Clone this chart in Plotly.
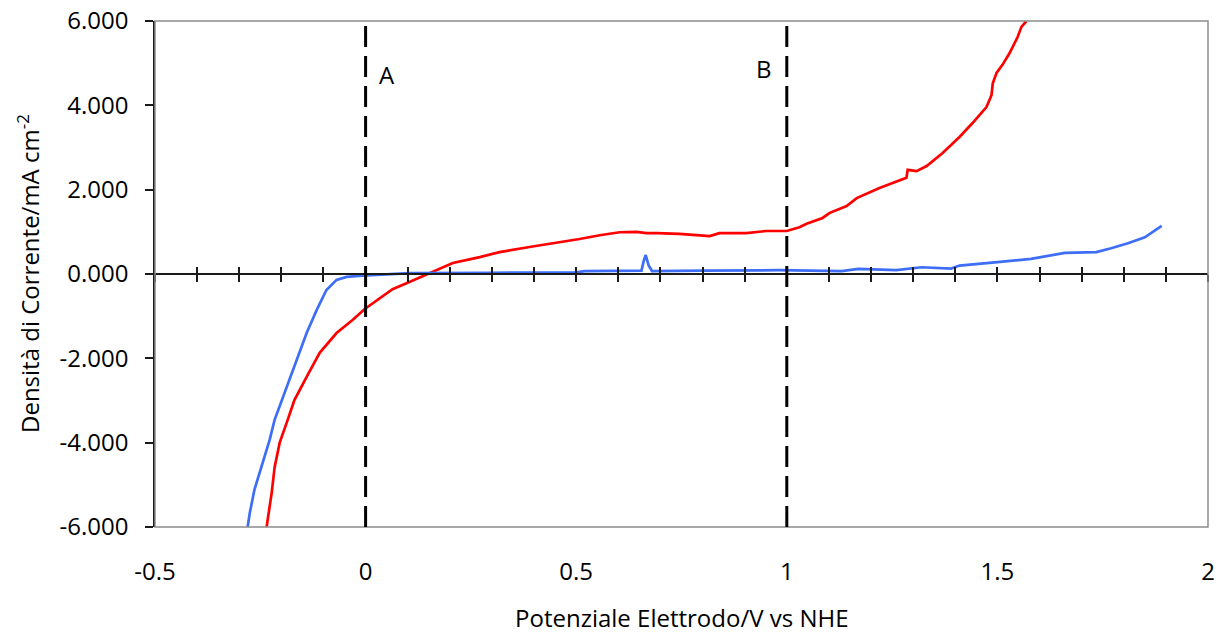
import plotly.graph_objects as go

# Red curve (potential V vs NHE, current density mA cm^-2)
red_x = [-0.235, -0.223, -0.216, -0.204, -0.185, -0.169, -0.140, -0.109, -0.069, -0.031,
         -0.002, 0.033, 0.064, 0.104, 0.152, 0.207, 0.271, 0.318, 0.389, 0.453, 0.508,
         0.556, 0.603, 0.643, 0.667, 0.691, 0.745, 0.817, 0.840, 0.904, 0.952, 1.000,
         1.030, 1.047, 1.085, 1.102, 1.142, 1.166, 1.220, 1.284, 1.287, 1.308, 1.332,
         1.370, 1.410, 1.441, 1.474, 1.486, 1.489, 1.498, 1.512, 1.529, 1.548, 1.557, 1.569]
red_y = [-6.0, -5.19, -4.58, -4.0, -3.46, -2.99, -2.44, -1.87, -1.40, -1.09,
         -0.83, -0.57, -0.36, -0.19, 0.02, 0.26, 0.40, 0.52, 0.64, 0.74, 0.83,
         0.92, 0.99, 1.00, 0.97, 0.97, 0.95, 0.90, 0.97, 0.97, 1.02, 1.02,
         1.11, 1.19, 1.33, 1.45, 1.61, 1.80, 2.04, 2.28, 2.47, 2.44, 2.56,
         2.87, 3.25, 3.58, 3.96, 4.24, 4.52, 4.77, 4.96, 5.24, 5.62, 5.86, 6.0]

# Blue curve
blue_x = [-0.280, -0.275, -0.264, -0.247, -0.228, -0.216, -0.199, -0.180, -0.161, -0.140,
          -0.116, -0.093, -0.069, -0.045, -0.007, 0.104, 0.300, 0.500, 0.520, 0.655,
          0.660, 0.665, 0.672, 0.680, 0.800, 0.980, 1.130, 1.170, 1.260, 1.320, 1.390,
          1.410, 1.500, 1.580, 1.660, 1.735, 1.770, 1.810, 1.850, 1.890]
blue_y = [-6.0, -5.67, -5.12, -4.58, -3.94, -3.46, -2.99, -2.51, -1.97, -1.40,
          -0.85, -0.38, -0.14, -0.07, -0.04, 0.02, 0.03, 0.04, 0.07, 0.08,
          0.30, 0.45, 0.20, 0.07, 0.08, 0.09, 0.07, 0.12, 0.09, 0.16, 0.13,
          0.20, 0.28, 0.36, 0.50, 0.52, 0.61, 0.73, 0.87, 1.14]

x_ticks = [-0.5, 0, 0.5, 1, 1.5, 2]
x_tick_text = ["-0.5", "0", "0.5", "1", "1.5", "2"]
y_ticks = [-6, -4, -2, 0, 2, 4, 6]
y_tick_text = ["-6.000", "-4.000", "-2.000", "0.000", "2.000", "4.000", "6.000"]
ref_lines = [0, 1]
ref_labels = ["A", "B"]
ref_label_x = [0.05, 0.947]
ref_label_y = [4.72, 4.88]

FONT = "Open Sans"
FS = 24

fig = go.Figure()
fig.add_trace(go.Scatter(x=red_x, y=red_y, mode="lines",
                         line=dict(color="#FF0000", width=2.7), showlegend=False))
fig.add_trace(go.Scatter(x=blue_x, y=blue_y, mode="lines",
                         line=dict(color="#3D6EF5", width=2.7), showlegend=False))

# plot-area border
fig.add_shape(type="rect", xref="x domain", yref="y domain", x0=0, x1=1, y0=0, y1=1,
              line=dict(color="#8C8C8C", width=1.5), layer="above")

for xv in ref_lines:
    fig.add_shape(type="line", xref="x", yref="y domain", x0=xv, x1=xv, y0=0, y1=1,
                  line=dict(color="black", width=3, dash="21px,9px"))

for lab, lx, ly in zip(ref_labels, ref_label_x, ref_label_y):
    fig.add_annotation(x=lx, y=ly, xref="x", yref="y", text=lab, showarrow=False,
                       font=dict(family=FONT, size=FS, color="black"))

fig.update_layout(
    width=1223, height=633,
    margin=dict(l=155, r=15, t=21, b=106, autoexpand=False),
    plot_bgcolor="rgba(0,0,0,0)", paper_bgcolor="white",
    font=dict(family=FONT, size=FS, color="black"),
    xaxis=dict(range=[-0.5, 2], tickvals=x_ticks, ticktext=x_tick_text,
               showgrid=False, zeroline=False, showline=False, ticks="",
               ticklabelstandoff=28, tickfont=dict(size=FS), automargin=False,
               ticklabeloverflow="allow"),
    xaxis2=dict(range=[-0.5, 2], overlaying="x", anchor="free", position=0.5,
                showgrid=False, zeroline=False, showline=True, linecolor="#1a1a1a", linewidth=1.5,
                ticks="outside", tickmode="linear", tick0=-0.5, dtick=0.1, ticklen=7,
                tickwidth=1.5, tickcolor="#1a1a1a", showticklabels=False, automargin=False),
    xaxis3=dict(range=[-0.5, 2], overlaying="x", anchor="free", position=0.5,
                showgrid=False, zeroline=False, showline=False,
                ticks="inside", tickmode="linear", tick0=-0.5, dtick=0.1, ticklen=7,
                tickwidth=1.5, tickcolor="#1a1a1a", showticklabels=False, automargin=False),
    yaxis=dict(range=[-6, 6], tickvals=y_ticks, ticktext=y_tick_text,
               showgrid=False, zeroline=False, showline=True, linecolor="#1a1a1a", linewidth=1.5,
               ticks="outside", ticklen=8, tickwidth=1.5, tickcolor="#1a1a1a",
               ticklabelstandoff=12, tickfont=dict(size=FS), automargin=False,
               ticklabeloverflow="allow"),
)

# dummy traces so that overlay axes render
fig.add_trace(go.Scatter(x=[None], y=[None], xaxis="x2", yaxis="y", showlegend=False))
fig.add_trace(go.Scatter(x=[None], y=[None], xaxis="x3", yaxis="y", showlegend=False))

fig.add_annotation(xref="paper", yref="paper", x=0.5, y=0, yshift=-90,
                   text="Potenziale Elettrodo/V vs NHE", showarrow=False,
                   font=dict(family=FONT, size=FS), yanchor="middle")
fig.add_annotation(xref="paper", yref="paper", x=0, xshift=-127, y=0.5,
                   text="Densità di Corrente/mA cm<sup>-2</sup>", showarrow=False,
                   textangle=-90, font=dict(family=FONT, size=FS), xanchor="center")

fig.write_html("out.html", config={"displayModeBar": False},
               post_script="document.body.style.margin='0';document.body.style.overflow='hidden';")
